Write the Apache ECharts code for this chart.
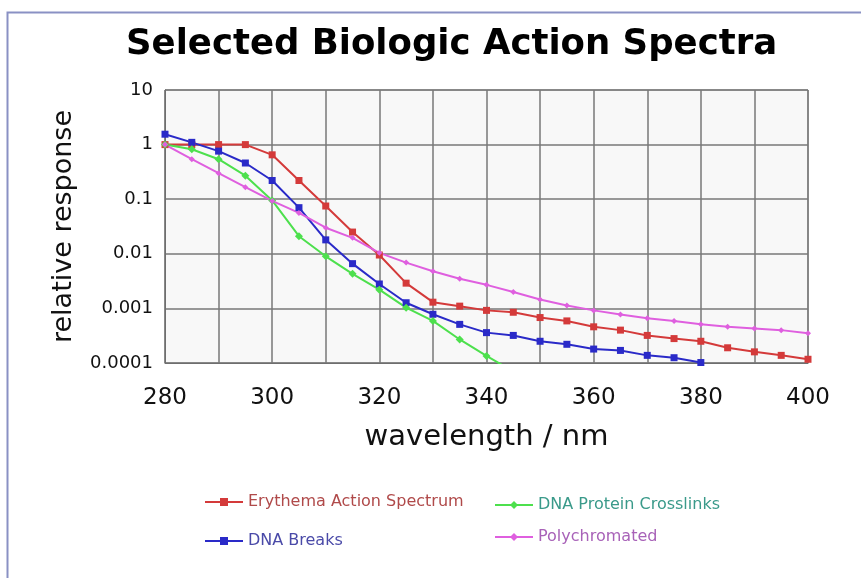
<!DOCTYPE html>
<html><head><meta charset="utf-8">
<script src="https://cdn.jsdelivr.net/npm/echarts@6/dist/echarts.min.js"></script>
<style>html,body{margin:0;padding:0;background:#fff}#c{width:861px;height:578px}</style>
</head><body><div id="c"></div>
<script>
const wavelengths = [280,285,290,295,300,305,310,315,320,325,330,335,340,345,350,355,360,365,370,375,380,385,390,395,400];
const erythema = [1,1,1,1,0.65,0.22,0.075,0.025,0.0095,0.0029,0.0013,0.0011,0.00092,0.00085,0.00068,0.00059,0.00046,0.0004,0.00032,0.00028,0.00025,0.00019,0.00016,0.000138,0.000117];
const dnaBreaks = [1.55,1.1,0.76,0.46,0.22,0.07,0.018,0.0066,0.0028,0.00127,0.00078,0.00051,0.00036,0.00032,0.00025,0.00022,0.00018,0.00017,0.000138,0.000125,0.000102];
const dnaCrosslinks = [1,0.82,0.54,0.27,0.095,0.021,0.009,0.0043,0.0022,0.00103,0.00059,0.00027,0.000135,0.00007];
const polychromated = [1,0.54,0.30,0.166,0.093,0.056,0.030,0.0196,0.0104,0.0069,0.0048,0.0035,0.0027,0.002,0.00146,0.00113,0.00092,0.00077,0.00066,0.00059,0.00051,0.00046,0.00043,0.0004,0.00035];
const yTickLabels = {'10':'10','1':'1','0.1':'0.1','0.01':'0.01','0.001':'0.001','0.0001':'0.0001'};
const xTickLabels = [280,300,320,340,360,380,400];

function pairs(vals){ return vals.map((v,i)=>[wavelengths[i], v]); }

const chart = echarts.init(document.getElementById('c'));
const font = '"DejaVu Sans", Verdana, sans-serif';
function mk(name, vals, color, symbol, size){
  return {name, type:'line', data:pairs(vals), clip:true,
    lineStyle:{color, width:2}, itemStyle:{color},
    symbol, symbolSize:size, showSymbol:true};
}
chart.setOption({
  animation:false,
  backgroundColor:'#ffffff',
  graphic:[{type:'rect', left:5, top:10, shape:{width:1000, height:1000}, style:{fill:'none', stroke:'#8a91c4', lineWidth:2}, silent:true}],
  title:{text:'Selected Biologic Action Spectra', left:121, top:22,
    textStyle:{fontFamily:'"DejaVu Sans", sans-serif', fontWeight:'bold', fontSize:35.5, color:'#000'}},
  grid:{left:165, right:53, top:90, bottom:215, show:true, backgroundColor:'#f8f8f8', borderColor:'#6e6e6e', borderWidth:1},
  xAxis:{type:'value', min:280, max:400, interval:10,
    name:'wavelength / nm', nameLocation:'middle', nameGap:60,
    nameTextStyle:{fontFamily:font, fontSize:29, color:'#111'},
    axisLine:{show:true, lineStyle:{color:'#6e6e6e'}}, axisTick:{show:false},
    axisLabel:{fontFamily:font, fontSize:23, color:'#111', margin:24,
      formatter:v=> xTickLabels.indexOf(v)>=0 ? String(v) : ''},
    splitLine:{show:true, lineStyle:{color:'#787878', width:1.5}}},
  yAxis:{type:'log', logBase:10, min:0.0001, max:10,
    name:'relative response', nameLocation:'middle', nameGap:88,
    nameTextStyle:{fontFamily:font, fontSize:27, color:'#111'},
    axisLine:{show:true, lineStyle:{color:'#6e6e6e'}}, axisTick:{show:false},
    axisLabel:{fontFamily:font, fontSize:18, color:'#111', margin:12,
      formatter:v=>{ const k=String(+v.toPrecision(3)); return yTickLabels[k]!==undefined ? yTickLabels[k] : k; }},
    splitLine:{show:true, lineStyle:{color:'#787878', width:1.5}}},
  legend:[
    {data:[{name:'Erythema Action Spectrum', textStyle:{color:'#b04a4a'}},{name:'DNA Breaks', textStyle:{color:'#4a4aa8'}}],
     left:199, top:489, orient:'vertical', itemGap:23, itemWidth:38, itemHeight:10,
     textStyle:{fontFamily:font, fontSize:16}},
    {data:[{name:'DNA Protein Crosslinks', textStyle:{color:'#3a9a8a'}},{name:'Polychromated', textStyle:{color:'#a862b8'}}],
     left:489, top:492, orient:'vertical', itemGap:16, itemWidth:38, itemHeight:10,
     textStyle:{fontFamily:font, fontSize:16}}
  ],
  series:[
    mk('Erythema Action Spectrum', erythema, '#d43a3a', 'rect', 7),
    mk('DNA Breaks', dnaBreaks, '#2a2ac8', 'rect', 7),
    mk('DNA Protein Crosslinks', dnaCrosslinks, '#4de04d', 'diamond', 8),
    mk('Polychromated', polychromated, '#df5fdf', 'diamond', 6)
  ]
});
</script></body></html>
